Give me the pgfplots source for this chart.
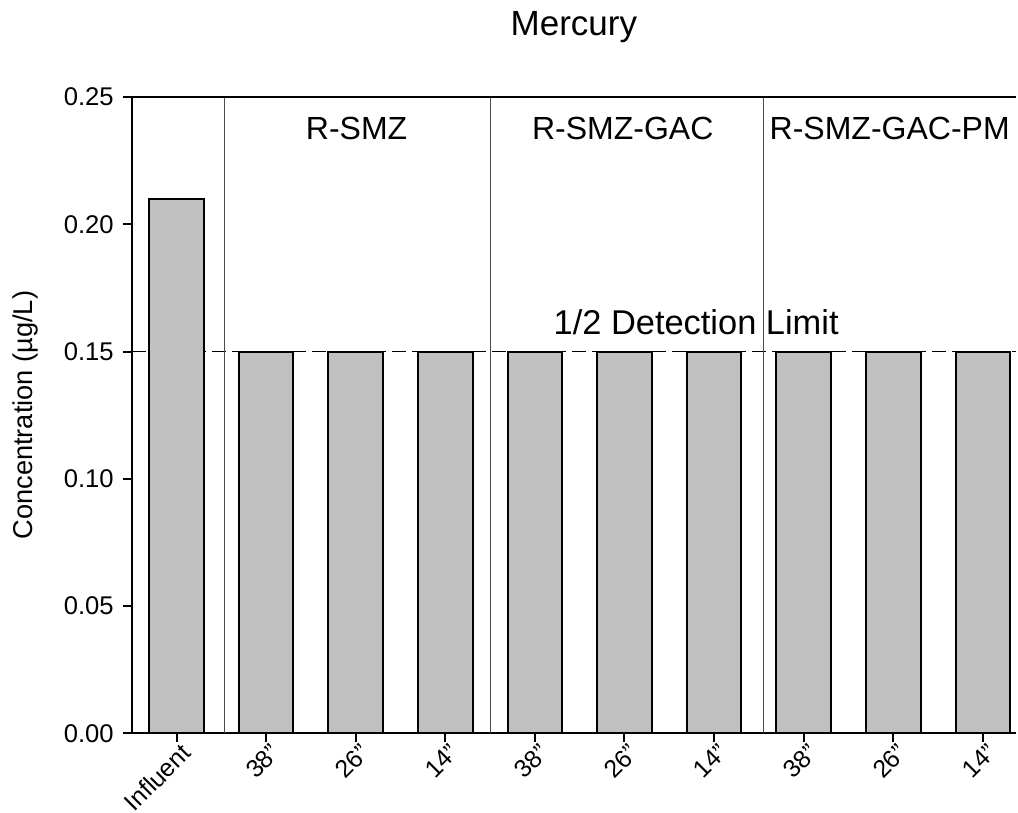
\documentclass[border=0pt]{standalone}
\usepackage{fontspec}
\setmainfont{Liberation Sans}
\usepackage{pgfplots}
\pgfplotsset{compat=1.18}
\usetikzlibrary{calc}
\definecolor{bargray}{RGB}{192,192,192}
\begin{document}
\begin{tikzpicture}
\begin{axis}[
  name=ax,
  scale only axis, width=442pt, height=318pt,
  xmin=-0.5, xmax=9.37, ymin=0, ymax=0.25,
  axis x line=bottom, axis y line=left,
  axis line style={-, line width=1pt},
  xtick={0,...,9},
  xticklabels={Influent,38",26",14",38",26",14",38",26",14"},
  x tick label style={yshift=5pt, xshift=1.5pt, rotate=45, anchor=north east,
    font=\fontsize{12.4}{15}\selectfont},
  ytick={0,0.05,0.10,0.15,0.20,0.25},
  yticklabel style={/pgf/number format/fixed, /pgf/number format/fixed zerofill,
    /pgf/number format/precision=2, font=\fontsize{12.8}{15}\selectfont, xshift=-1pt},
  /pgf/number format/assume math mode=true,
  tick align=outside, major tick length=4.5pt,
  tick style={black, line width=1pt},
  ylabel={Concentration (µg/L)},
  ylabel style={font=\fontsize{13.6}{16}\selectfont},
  ylabel shift=6pt,
  clip=false,
]
\addplot[sharp plot, black, line width=0.9pt, dash pattern=on 7pt off 3pt]
  coordinates {(-0.5,0.15) (9.37,0.15)};
\addplot[ybar, bar width=0.61, fill=bargray, draw=black, line width=1pt]
  coordinates {(0,0.21) (1,0.15) (2,0.15) (3,0.15) (4,0.15) (5,0.15) (6,0.15) (7,0.15) (8,0.15) (9,0.15)};
\draw[gray!60!black, line width=0.5pt] (axis cs:0.53,0) -- (axis cs:0.53,0.25);
\draw[gray!60!black, line width=0.5pt] (axis cs:3.5,0) -- (axis cs:3.5,0.25);
\draw[gray!60!black, line width=0.5pt] (axis cs:6.55,0) -- (axis cs:6.55,0.25);
\draw[black, line width=1pt] (rel axis cs:0,1) -- (rel axis cs:1,1);
\node[font=\fontsize{16}{19}\selectfont] at (axis cs:2.01,0.2378) {R-SMZ};
\node[font=\fontsize{16}{19}\selectfont] at (axis cs:4.98,0.2378) {R-SMZ-GAC};
\node[font=\fontsize{16}{19}\selectfont] at (axis cs:7.96,0.2378) {R-SMZ-GAC-PM};
\node[font=\fontsize{17.2}{20}\selectfont] at (axis cs:5.8,0.1616) {1/2 Detection Limit};
\end{axis}
\node[anchor=base, font=\fontsize{17.5}{20}\selectfont] at ($(ax.north)+(0,31pt)$) {Mercury};
\pgfresetboundingbox
\path ($(ax.south west)+(-65.85pt,-39.5pt)$) rectangle ($(ax.north east)+(1pt,48.5pt)$);
\end{tikzpicture}
\end{document}
